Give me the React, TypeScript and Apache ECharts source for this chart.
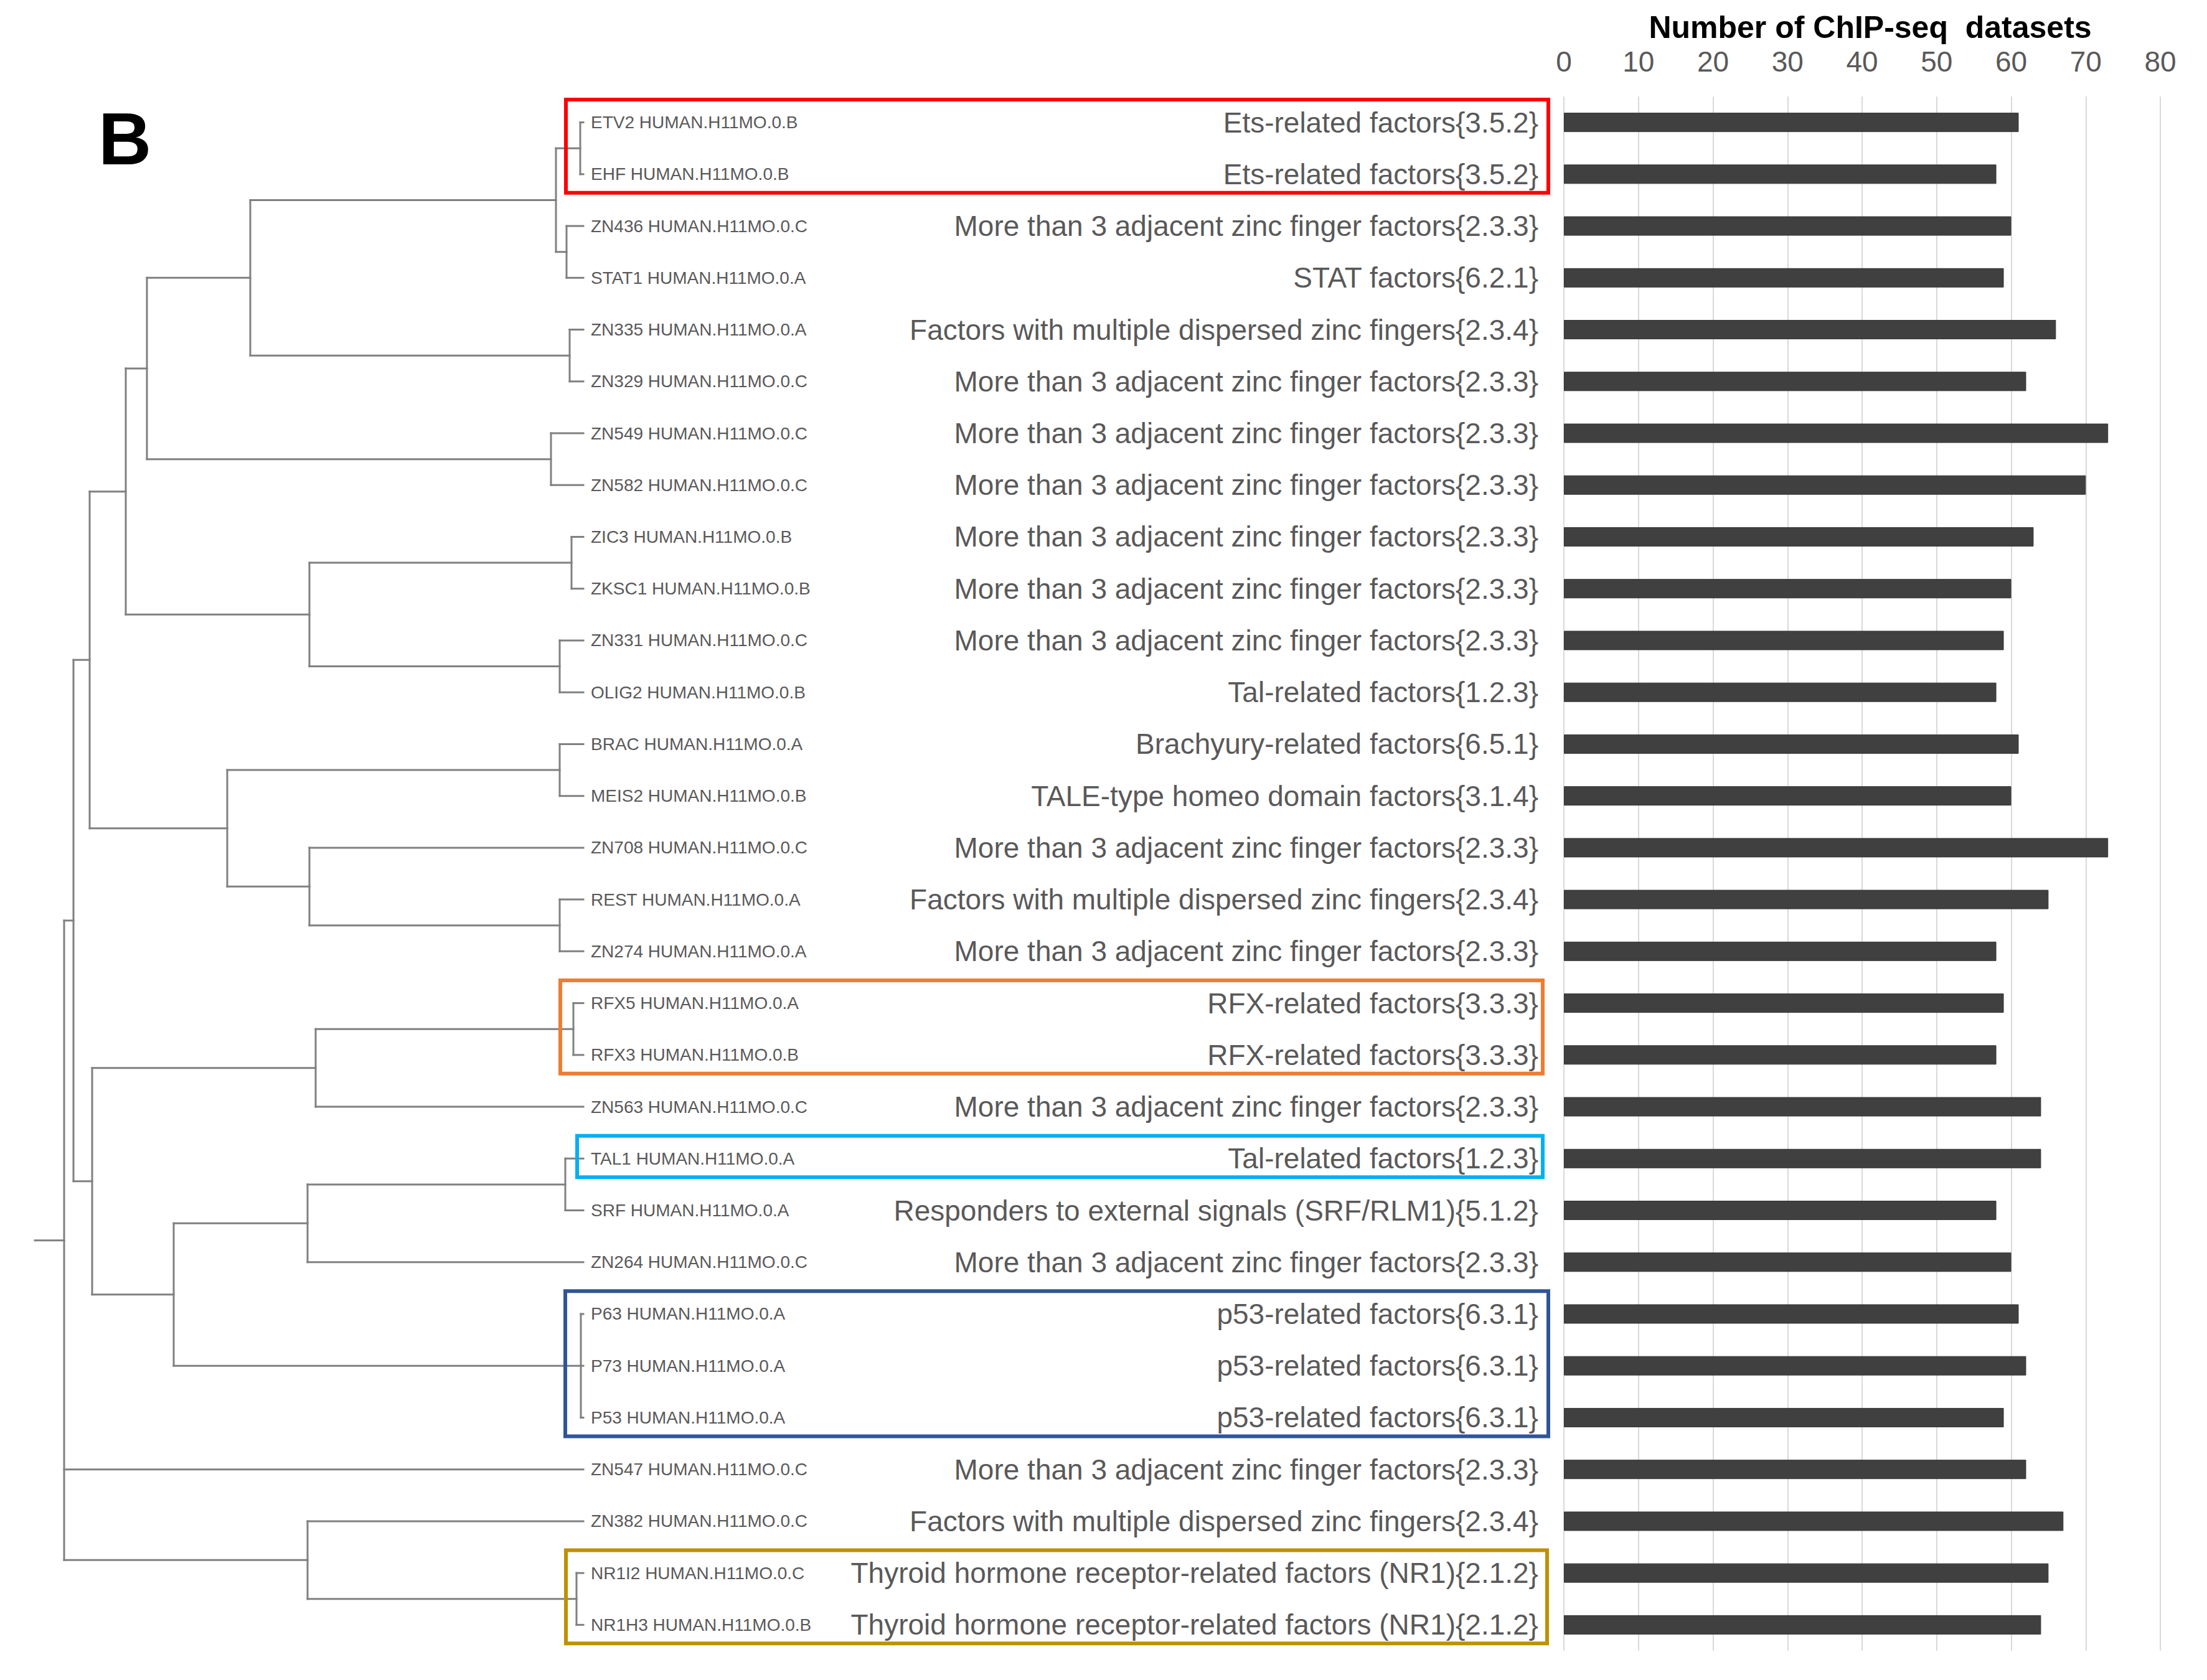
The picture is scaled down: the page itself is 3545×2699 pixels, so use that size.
import React, { useEffect, useRef } from "react";
import * as echarts from "echarts";

const leafNames = [
  "ETV2 HUMAN.H11MO.0.B", "EHF HUMAN.H11MO.0.B", "ZN436 HUMAN.H11MO.0.C", "STAT1 HUMAN.H11MO.0.A",
  "ZN335 HUMAN.H11MO.0.A", "ZN329 HUMAN.H11MO.0.C", "ZN549 HUMAN.H11MO.0.C", "ZN582 HUMAN.H11MO.0.C",
  "ZIC3 HUMAN.H11MO.0.B", "ZKSC1 HUMAN.H11MO.0.B", "ZN331 HUMAN.H11MO.0.C", "OLIG2 HUMAN.H11MO.0.B",
  "BRAC HUMAN.H11MO.0.A", "MEIS2 HUMAN.H11MO.0.B", "ZN708 HUMAN.H11MO.0.C", "REST HUMAN.H11MO.0.A",
  "ZN274 HUMAN.H11MO.0.A", "RFX5 HUMAN.H11MO.0.A", "RFX3 HUMAN.H11MO.0.B", "ZN563 HUMAN.H11MO.0.C",
  "TAL1 HUMAN.H11MO.0.A", "SRF HUMAN.H11MO.0.A", "ZN264 HUMAN.H11MO.0.C", "P63 HUMAN.H11MO.0.A",
  "P73 HUMAN.H11MO.0.A", "P53 HUMAN.H11MO.0.A", "ZN547 HUMAN.H11MO.0.C", "ZN382 HUMAN.H11MO.0.C",
  "NR1I2 HUMAN.H11MO.0.C", "NR1H3 HUMAN.H11MO.0.B",
];

const ZF = "More than 3 adjacent zinc finger factors{2.3.3}";
const DZ = "Factors with multiple dispersed zinc fingers{2.3.4}";
const families = [
  "Ets-related factors{3.5.2}", "Ets-related factors{3.5.2}", ZF, "STAT factors{6.2.1}",
  DZ, ZF, ZF, ZF, ZF, ZF, ZF, "Tal-related factors{1.2.3}",
  "Brachyury-related factors{6.5.1}", "TALE-type homeo domain factors{3.1.4}", ZF, DZ, ZF,
  "RFX-related factors{3.3.3}", "RFX-related factors{3.3.3}", ZF, "Tal-related factors{1.2.3}",
  "Responders to external signals (SRF/RLM1){5.1.2}", ZF,
  "p53-related factors{6.3.1}", "p53-related factors{6.3.1}", "p53-related factors{6.3.1}",
  ZF, DZ,
  "Thyroid hormone receptor-related factors (NR1){2.1.2}",
  "Thyroid hormone receptor-related factors (NR1){2.1.2}",
];

const datasetCounts = [61, 58, 60, 59, 66, 62, 73, 70, 63, 60, 59, 58, 61, 60, 73, 65, 58, 59, 58, 64, 64, 58, 60, 61, 62, 59, 62, 67, 65, 64];

const axisMax = 80;
const axisStep = 10;
const axisTitle = "Number of ChIP-seq  datasets";

// dendrogram merges: children are leaf indices (numbers) or node ids (strings); height = distance
const mergeIds = ["n1", "n2", "A", "n4", "B", "n6", "C", "n8", "n9", "D", "E", "n12", "n13", "F", "G", "H", "n17", "I", "n19", "J", "n21", "K", "L", "M", "n25", "N", "root"];
const mergeChildren: (number | string)[][] = [
  [0, 1], [2, 3], ["n1", "n2"], [4, 5], ["A", "n4"], [6, 7], ["B", "n6"],
  [8, 9], [10, 11], ["n8", "n9"], ["C", "D"], [12, 13], [15, 16], [14, "n13"], ["n12", "F"], ["E", "G"],
  [17, 18], ["n17", 19], [20, 21], ["n19", 22], [23, 24, 25], ["J", "n21"], ["I", "K"], ["H", "L"],
  [28, 29], [27, "n25"], ["M", 26, "N"],
];
const mergeHeights = [5, 27, 44, 22, 535, 52, 701, 19, 38, 440, 735, 38, 38, 440, 572, 793, 16, 430, 29, 443, 4, 658, 789, 819, 11, 443, 834];
const rootStemEnd = 881;

const boxRows = [[0, 1], [17, 18], [20, 20], [23, 25], [28, 29]];
const boxColors = ["#ff0000", "#ed7d31", "#00b0f0", "#2f5597", "#bf9000"];

function buildSegments(): number[][] {
  const pos: Record<string, { h: number; y: number }> = {};
  const get = (c: number | string) => (typeof c === "number" ? { h: 0, y: c } : pos[c]);
  const segs: number[][] = [];
  mergeIds.forEach((id, i) => {
    const kids = mergeChildren[i].map(get);
    const h = mergeHeights[i];
    const ys = kids.map((k) => k.y);
    const y0 = Math.min(...ys);
    const y1 = Math.max(...ys);
    segs.push([h, y0, h, y1]);
    kids.forEach((k) => segs.push([h, k.y, k.h, k.y]));
    pos[id] = { h, y: (y0 + y1) / 2 };
  });
  const r = pos["root"];
  segs.push([rootStemEnd, r.y, r.h, r.y]);
  return segs;
}

export default function App() {
  const ref = useRef<HTMLDivElement>(null);
  useEffect(() => {
    if (!ref.current) return;
    const chart = echarts.init(ref.current, null, { renderer: "svg" });
    const n = leafNames.length;
    const idx = leafNames.map((_, i) => String(i));
    const font = "Liberation Sans, Arial, sans-serif";
    const letterB = { type: "text", left: 158, top: 164, style: { text: "B", fontSize: 118, fontWeight: "bold", fill: "#000", fontFamily: font } };
    const option: any = {
      animation: false,
      backgroundColor: "#ffffff",
      textStyle: { fontFamily: font },
      grid: [
        { left: 56, right: 3545 - 937, top: 155, height: 2497 },
        { left: 2512, width: 958, top: 155, height: 2497 },
      ],
      xAxis: [
        { type: "value", gridIndex: 0, min: 0, max: rootStemEnd, inverse: true, show: false },
        {
          type: "value", gridIndex: 1, min: 0, max: axisMax, interval: axisStep, position: "top",
          axisLine: { show: false }, axisTick: { show: false },
          axisLabel: { fontSize: 46, color: "#595959", margin: 33, fontFamily: font },
          splitLine: { show: true, lineStyle: { color: "#d9d9d9", width: 2 } },
          name: axisTitle, nameLocation: "middle", nameGap: 86,
          nameTextStyle: { fontSize: 50, fontWeight: "bold", color: "#000000", fontFamily: font, padding: [0, 0, 0, 26] },
        },
      ],
      yAxis: [
        { type: "value", gridIndex: 0, min: -0.5, max: n - 0.5, inverse: true, show: false },
        {
          type: "category", gridIndex: 0, data: idx, inverse: true, position: "right",
          axisLine: { show: false }, axisTick: { show: false }, splitLine: { show: false },
          axisLabel: { fontSize: 28, color: "#595959", margin: 12, fontFamily: font, formatter: (v: string) => leafNames[+v] },
        },
        {
          type: "category", gridIndex: 1, data: idx, inverse: true,
          axisLine: { show: false }, axisTick: { show: false }, splitLine: { show: false },
          axisLabel: { fontSize: 46, color: "#595959", margin: 41, fontFamily: font, formatter: (v: string) => families[+v] },
        },
      ],
      series: [
        {
          type: "custom", xAxisIndex: 0, yAxisIndex: 0, data: buildSegments(),
          encode: { x: [0, 2], y: [1, 3] }, clip: false, silent: true,
          renderItem: (params: any, api: any) => {
            const p1 = api.coord([api.value(0), api.value(1)]);
            const p2 = api.coord([api.value(2), api.value(3)]);
            return {
              type: "line",
              shape: { x1: p1[0], y1: p1[1], x2: p2[0], y2: p2[1] },
              style: { stroke: "#808080", lineWidth: 3, lineCap: "square" },
            };
          },
        },
        {
          type: "bar", xAxisIndex: 1, yAxisIndex: 2, data: datasetCounts, barWidth: 31,
          itemStyle: { color: "#404040", borderColor: "#333333", borderWidth: 1 }, silent: true,
        },
      ],
      graphic: [letterB],
    };
    chart.setOption(option);

    const barLeft = chart.convertToPixel({ xAxisIndex: 1 }, 0) as number;
    const boxLeftD = [28, 37, 10, 29, 28];
    const boxRightGap = [25, 34, 34, 25, 27];
    const rects = boxRows.map((r, i) => {
      const y0 = chart.convertToPixel({ yAxisIndex: 0 }, r[0] - 0.44) as number;
      const y1 = chart.convertToPixel({ yAxisIndex: 0 }, r[1] + 0.36) as number;
      const x0 = chart.convertToPixel({ xAxisIndex: 0 }, boxLeftD[i]) as number;
      const x1 = barLeft - boxRightGap[i];
      return {
        type: "rect", silent: true, z: 10,
        shape: { x: x0, y: y0, width: x1 - x0, height: y1 - y0 },
        style: { fill: "none", stroke: boxColors[i], lineWidth: 6 },
      };
    });
    chart.setOption({ graphic: [letterB, ...rects] }, { replaceMerge: ["graphic"] });

    return () => chart.dispose();
  }, []);
  return <div ref={ref} style={{ position: "absolute", left: 0, top: 0, width: 3545, height: 2699 }} />;
}
